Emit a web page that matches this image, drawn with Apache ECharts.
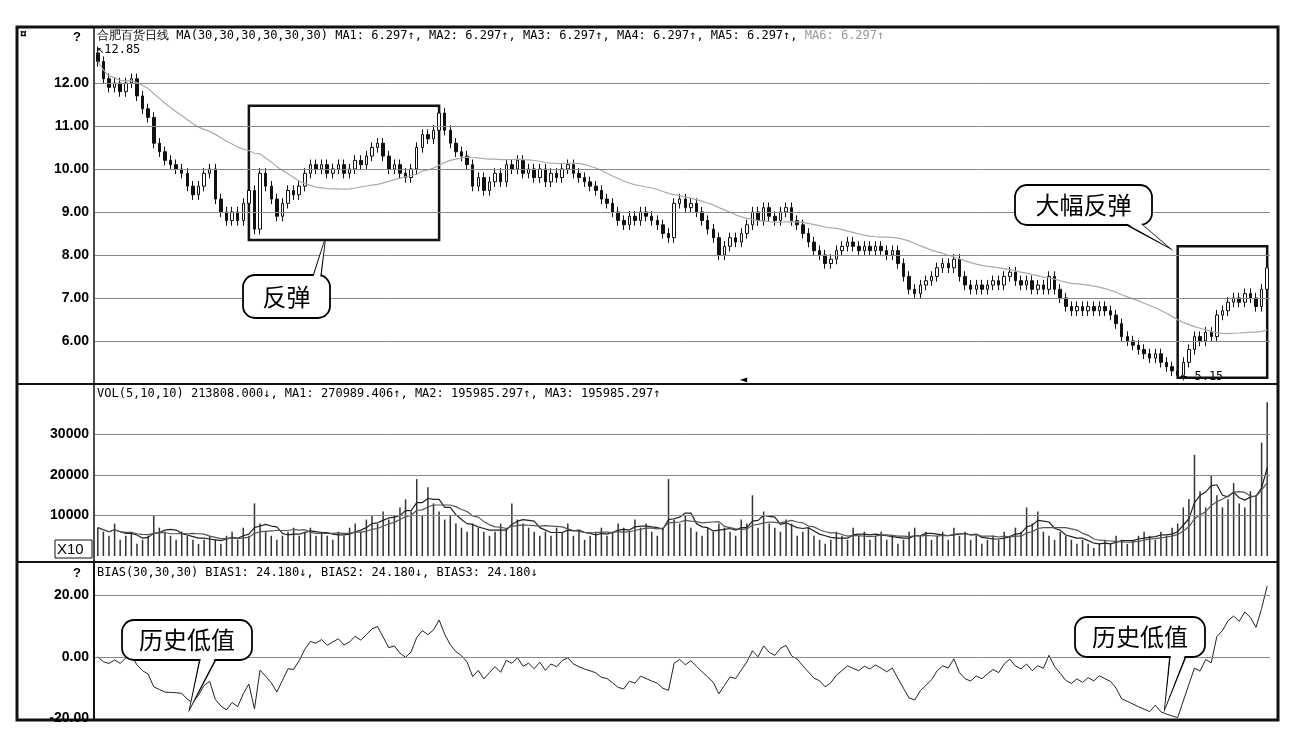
<!DOCTYPE html>
<html><head><meta charset="utf-8">
<script src="https://cdn.jsdelivr.net/npm/echarts@6/dist/echarts.min.js"></script>
<style>html,body{margin:0;background:#fff}#c{width:1296px;height:742px}</style>
</head><body><div id="c"></div>
<script>
const closes=[12.5,12.1,11.9,12.0,11.8,12.0,12.1,11.7,11.4,11.2,
10.6,10.4,10.2,10.1,10.0,9.9,9.6,9.4,9.6,9.9,
10.0,9.3,9.0,8.8,9.0,8.8,9.2,9.5,8.6,9.9,
9.6,9.3,8.9,9.2,9.5,9.4,9.6,9.9,10.1,10.0,
10.1,9.9,10.0,10.1,9.9,10.0,10.2,10.1,10.3,10.5,
10.6,10.3,10.0,10.1,9.9,9.8,10.0,10.5,10.8,10.7,
10.9,11.3,10.9,10.6,10.4,10.3,10.1,9.6,9.8,9.5,
9.7,9.9,9.7,10.1,10.0,10.2,9.9,10.0,9.8,10.0,
9.7,9.9,9.8,10.0,10.1,9.9,9.8,9.7,9.6,9.5,
9.3,9.2,9.0,8.8,8.7,8.9,8.8,9.0,8.9,8.8,
8.7,8.5,8.4,9.2,9.3,9.1,9.2,9.0,8.8,8.6,
8.4,8.0,8.2,8.4,8.3,8.5,8.7,9.0,8.8,9.1,
8.9,8.8,9.0,9.1,8.8,8.7,8.5,8.3,8.1,8.0,
7.8,7.9,8.1,8.2,8.3,8.2,8.1,8.2,8.1,8.2,
8.1,8.0,8.1,7.8,7.5,7.2,7.1,7.3,7.4,7.5,
7.7,7.8,7.7,7.9,7.5,7.3,7.2,7.3,7.2,7.3,
7.4,7.3,7.5,7.6,7.4,7.3,7.4,7.2,7.3,7.2,
7.5,7.2,7.0,6.8,6.7,6.8,6.7,6.8,6.7,6.8,
6.7,6.6,6.4,6.1,6.0,5.9,5.8,5.7,5.6,5.7,
5.5,5.4,5.3,5.2,5.5,5.8,6.1,6.0,6.2,6.1,
6.6,6.7,6.9,7.0,6.9,7.1,7.0,6.8,7.2,7.7];
const volumesK=[7,6,5,8,4,5,6,3,4,5,10,7,6,5,4,6,5,4,3,4,
5,4,3,5,6,4,7,5,13,8,6,5,4,5,6,7,5,6,7,5,
6,5,4,6,5,7,8,6,9,10,8,11,9,10,12,14,11,19,10,17,
13,11,9,10,8,7,6,8,7,6,5,6,8,7,13,9,8,7,6,5,
6,5,7,6,8,5,6,4,5,6,7,5,6,8,7,6,9,7,8,6,
5,7,19,9,8,10,7,6,5,7,6,8,7,6,5,9,8,15,7,11,
8,7,6,9,8,5,6,7,5,4,3,4,6,5,4,7,5,6,4,5,
6,4,5,3,4,6,7,5,6,4,5,6,4,7,5,6,4,5,3,4,
5,4,6,5,7,6,12,8,11,6,5,4,6,5,4,3,4,3,2,3,
4,3,5,4,3,4,5,6,5,4,6,5,7,8,12,14,25,16,12,20,
15,12,14,18,13,12,16,15,28,38];
const priceTicks=[6,7,8,9,10,11,12];
const volTicks=[10000,20000,30000];
const biasTicks=[-20,0,20];

const N=closes.length, cats=closes.map((_,i)=>i);
const candles=closes.map((c,i)=>{const o=i?closes[i-1]:12.7;return [o,c,Math.min(o,c)-0.12,Math.max(o,c)+0.12];});
candles[0][3]=12.85; candles[193][2]=5.15; candles[209][3]=8.0;
function ma(arr,n){return arr.map((_,i)=>{const s=Math.max(0,i-n+1);let t=0;for(let j=s;j<=i;j++)t+=arr[j];return +(t/(i-s+1)).toFixed(3);});}
const ma30=ma(closes,30);
const bias=closes.map((c,i)=>+((c-ma30[i])/ma30[i]*100).toFixed(2));
const vols=volumesK.map(v=>v*1000);
const vma5=ma(vols,5), vma10=ma(vols,10);

const lbl={show:true,position:'start',distance:6,color:'#000',fontWeight:'bold',fontSize:14,fontFamily:'Liberation Sans'};
function mlines(ticks,fmt){return {silent:true,symbol:'none',lineStyle:{color:'#888',type:'solid',width:1},
 label:{...lbl,formatter:p=>fmt(p.value)},data:ticks.map(v=>({yAxis:v}))};}
const ax={type:'category',data:cats,boundaryGap:true,axisLine:{show:false},axisTick:{show:false},axisLabel:{show:false}};
const yv={type:'value',axisLine:{show:false},axisTick:{show:false},axisLabel:{show:false},splitLine:{show:false}};
const hdr={fontSize:12,fontFamily:'DejaVu Sans Mono',fill:'#000'};
function callout(x,y,w,h,text,px,py,bx){
 return [{type:'polygon',z:100,shape:{points:[[bx,y+h-1],[bx+16,y+h-1],[px,py]]},style:{fill:'#fff',stroke:'#000',lineWidth:1.5}},
  {type:'rect',z:101,shape:{x,y,width:w,height:h,r:12},style:{fill:'#fff',stroke:'#000',lineWidth:1.8}},
  {type:'polygon',z:102,shape:{points:[[bx+1,y+h-2],[bx+15,y+h-2],[px,py]]},style:{fill:'#fff',stroke:null}},
  {type:'text',z:103,style:{x:x+w/2,y:y+h/2,text,fill:'#000',font:'24px "Noto Sans CJK SC"',align:'center',verticalAlign:'middle'}}];
}
const chart=echarts.init(document.getElementById('c'));
chart.setOption({animation:false,backgroundColor:'#fff',
 grid:[{left:95,right:26,top:28,height:355},{left:95,right:26,top:386,height:170},{left:95,right:26,top:565,height:153}],
 xAxis:[{...ax,gridIndex:0},{...ax,gridIndex:1},{...ax,gridIndex:2}],
 yAxis:[{...yv,gridIndex:0,min:5.02,max:13.28},{...yv,gridIndex:1,min:0,max:42000},{...yv,gridIndex:2,min:-20,max:30}],
 series:[
  {type:'candlestick',data:candles,barWidth:3,itemStyle:{color:'#fff',color0:'#111',borderColor:'#111',borderColor0:'#111',borderWidth:1},
   markLine:mlines(priceTicks,v=>v.toFixed(2)),
   markArea:{silent:true,itemStyle:{color:'rgba(0,0,0,0)',borderColor:'#111',borderWidth:2.5},
    data:[[{xAxis:27,yAxis:11.47},{xAxis:61,yAxis:8.35}],[{xAxis:193,yAxis:8.2},{xAxis:209,yAxis:5.14}]]}},
  {type:'line',data:ma30,symbol:'none',lineStyle:{color:'#aaa',width:1.2}},
  {type:'bar',xAxisIndex:1,yAxisIndex:1,data:vols,barWidth:1.5,itemStyle:{color:'#333'},markLine:mlines(volTicks,v=>String(v))},
  {type:'line',xAxisIndex:1,yAxisIndex:1,data:vma5,symbol:'none',lineStyle:{color:'#222',width:1.2}},
  {type:'line',xAxisIndex:1,yAxisIndex:1,data:vma10,symbol:'none',lineStyle:{color:'#555',width:1.2}},
  {type:'line',xAxisIndex:2,yAxisIndex:2,data:bias,symbol:'none',lineStyle:{color:'#222',width:1},markLine:mlines(biasTicks,v=>v.toFixed(2))}
 ],
 graphic:[
  {type:'rect',shape:{x:17,y:27,width:1261,height:693},style:{fill:null,stroke:'#111',lineWidth:3}},
  {type:'line',shape:{x1:17,y1:384,x2:1278,y2:384},style:{stroke:'#111',lineWidth:2}},
  {type:'line',shape:{x1:17,y1:562,x2:1278,y2:562},style:{stroke:'#111',lineWidth:2}},
  {type:'line',shape:{x1:94,y1:28,x2:94,y2:720},style:{stroke:'#111',lineWidth:1.5}},
  {type:'rect',shape:{x:17,y:562,width:77,height:158},style:{fill:null,stroke:'#111',lineWidth:2}},
  {type:'text',style:{...hdr,x:97,y:30,text:'{a|合肥百货日线 MA(30,30,30,30,30,30) MA1: 6.297↑, MA2: 6.297↑, MA3: 6.297↑, MA4: 6.297↑, MA5: 6.297↑, }{b|MA6: 6.297↑}',
    rich:{a:{fontSize:12,fontFamily:'DejaVu Sans Mono',fill:'#000'},b:{fontSize:12,fontFamily:'DejaVu Sans Mono',fill:'#999'}}}},
  {type:'text',style:{...hdr,x:97,y:44,text:'↖12.85'}},
  {type:'text',style:{...hdr,x:1180,y:371,text:'← 5.15'}},
  {type:'text',style:{...hdr,x:740,y:374,text:'◄'}},
  {type:'text',style:{...hdr,x:97,y:388,text:'VOL(5,10,10) 213808.000↓, MA1: 270989.406↑, MA2: 195985.297↑, MA3: 195985.297↑'}},
  {type:'text',style:{...hdr,x:97,y:567,text:'BIAS(30,30,30) BIAS1: 24.180↓, BIAS2: 24.180↓, BIAS3: 24.180↓'}},
  {type:'text',style:{x:73,y:31,text:'?',font:'bold 13px "Liberation Sans"',fill:'#000'}},
  {type:'text',style:{x:20,y:29,text:'¤',font:'bold 12px "Liberation Sans"',fill:'#000'}},
  {type:'text',style:{x:73,y:567,text:'?',font:'bold 13px "Liberation Sans"',fill:'#000'}},
  {type:'rect',shape:{x:55,y:540,width:37,height:18},style:{fill:'#fff',stroke:'#111',lineWidth:1}},
  {type:'text',style:{x:57,y:542,text:'X10',font:'15px "Liberation Sans"',fill:'#000'}},
  ...callout(243,275,87,43,'反弹',325,240,300),
  ...callout(1015,185,137,40,'大幅反弹',1168,247,1125),
  ...callout(122,620,130,40,'历史低值',190,708,200),
  ...callout(1075,617,130,40,'历史低值',1165,708,1170)
 ]
});
</script></body></html>
